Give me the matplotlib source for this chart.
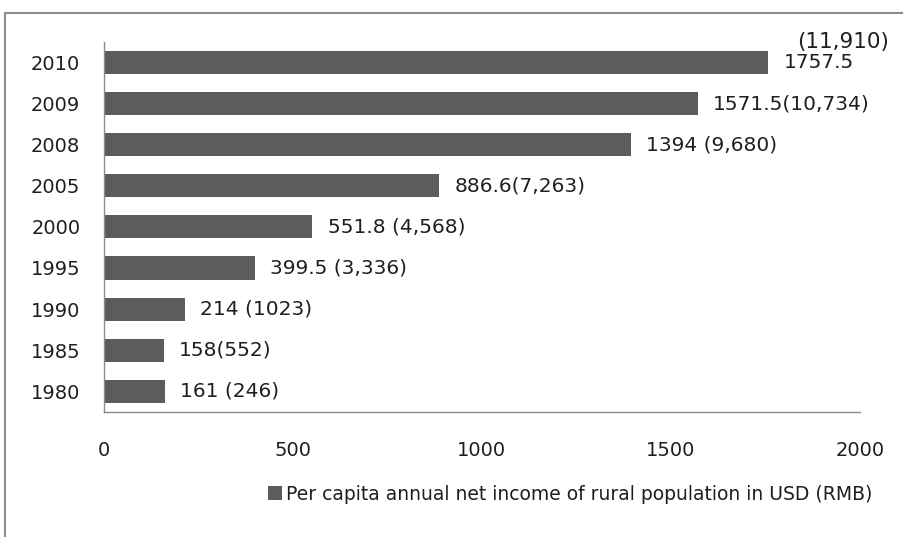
import matplotlib.pyplot as plt
from matplotlib.patches import Rectangle

years = ["1980", "1985", "1990", "1995", "2000", "2005", "2008", "2009", "2010"]
usd = [161, 158, 214, 399.5, 551.8, 886.6, 1394, 1571.5, 1757.5]
labels = ["161 (246)", "158(552)", "214 (1023)", "399.5 (3,336)", "551.8 (4,568)",
          "886.6(7,263)", "1394 (9,680)", "1571.5(10,734)", "1757.5"]
top_rmb = "(11,910)"
xticks = [0, 500, 1000, 1500, 2000]
legend_text = "Per capita annual net income of rural population in USD (RMB)"

plt.rcParams["font.family"] = ["DejaVu Sans"]
bar_color = "#5c5c5c"
axis_color = "#8c8c8c"
txt_color = "#1f1f1f"

fig = plt.figure(figsize=(9.04, 5.37), dpi=100)
ax = fig.add_axes([0.115, 0.233, 0.836, 0.689])

pos = list(range(len(years)))
ax.barh(pos, usd, height=0.56, color=bar_color, label=legend_text)

for i, (v, lab) in enumerate(zip(usd, labels)):
    ax.annotate(lab, (v, i), xytext=(11, 0), textcoords="offset points",
                ha="left", va="center", fontsize=14.5, color=txt_color)
# 2010 label wraps: RMB value sits above the USD value
ax.annotate(top_rmb, (usd[-1], pos[-1]), xytext=(21, 15), textcoords="offset points",
            ha="left", va="center", fontsize=15.5, color=txt_color, annotation_clip=False)

ax.set_xlim(0, 2000)
ax.set_ylim(-0.5, 8.5)
ax.set_xticks(xticks)
ax.set_yticks(pos)
ax.set_yticklabels(years)
ax.tick_params(axis="both", length=0, labelsize=14, labelcolor=txt_color)
ax.tick_params(axis="x", pad=21)
ax.tick_params(axis="y", pad=17)
for s in ["top", "right"]:
    ax.spines[s].set_visible(False)
for s in ["left", "bottom"]:
    ax.spines[s].set_color(axis_color)
    ax.spines[s].set_linewidth(1)

fig.legend(loc="center", bbox_to_anchor=(570 / 904, 1 - 494 / 537), frameon=False,
           fontsize=13.5, handlelength=0.75, handleheight=0.75, handletextpad=0.2,
           labelcolor=txt_color)

# chart frame (cut by the image edge on the right and bottom)
fig.patches.append(Rectangle((5 / 904, -0.1), 1.2, 1.1 - 13 / 537, transform=fig.transFigure,
                             fill=False, edgecolor=axis_color, linewidth=1.5))

fig.savefig("out.png", dpi=100)
